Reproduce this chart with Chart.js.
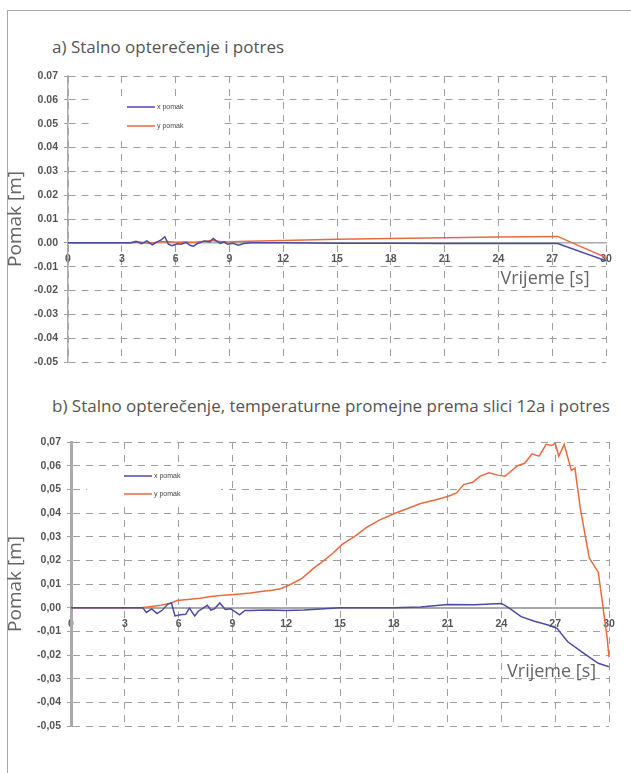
<!DOCTYPE html>
<html>
<head>
<meta charset="utf-8">
<script src="https://cdn.jsdelivr.net/npm/chart.js@4/dist/chart.umd.min.js"></script>
<style>
body { margin: 0; background: #fff; width: 631px; height: 773px; overflow: hidden; position: relative; font-family: "Open Sans", sans-serif; }
.frame { position: absolute; left: 7px; top: 10px; width: 700px; height: 800px; border-left: 1.5px solid #aaa; border-top: 1.5px solid #aaa; }
.title { position: absolute; left: 52px; font-size: 17px; color: #555; white-space: nowrap; }
.wrap { position: absolute; left: 0; width: 631px; }
</style>
</head>
<body>
<div class="frame"></div>
<div class="title" style="top:35px">a) Stalno opterečenje i potres</div>
<div class="wrap" style="top:60px;height:320px"><canvas id="chartA"></canvas></div>
<div class="title" style="top:394px">b) Stalno opterečenje, temperaturne promejne prema slici 12a i potres</div>
<div class="wrap" style="top:420px;height:330px"><canvas id="chartB"></canvas></div>

<script>
// axis ticks
const xTicks = [0, 3, 6, 9, 12, 15, 18, 21, 24, 27, 30];
const yTicks = [-0.05, -0.04, -0.03, -0.02, -0.01, 0, 0.01, 0.02, 0.03, 0.04, 0.05, 0.06, 0.07];
const yLabelsA = ['-0.05', '-0.04', '-0.03', '-0.02', '-0.01', '0.00', '0.01', '0.02', '0.03', '0.04', '0.05', '0.06', '0.07'];
const yLabelsB = ['-0,05', '-0,04', '-0,03', '-0,02', '-0,01', '0,00', '0,01', '0,02', '0,03', '0,04', '0,05', '0,06', '0,07'];
const seriesNames = ['x pomak', 'y pomak'];

// a) Stalno opterečenje i potres
const timeAx = [0, 3.5, 3.8, 4.1, 4.4, 4.7, 5.0, 5.2, 5.4, 5.6, 5.8, 6.1, 6.3, 6.6, 6.8, 7.0, 7.2, 7.4, 7.6, 7.9, 8.1, 8.3, 8.5, 8.7, 8.9, 9.2, 9.5, 9.8, 10.2, 12, 15, 18, 21, 24, 27.3, 30];
const pomakAx = [0, 0, 0.0006, -0.0004, 0.0008, -0.0008, 0.0005, 0.0012, 0.0026, -0.0006, -0.0012, -0.0004, -0.0006, 0.0002, -0.001, -0.0014, -0.0004, 0.0002, 0.0008, 0.0004, 0.0018, 0.0006, -0.0002, 0.0004, -0.0006, -0.0002, -0.001, -0.0003, 0, 0, -0.0002, -0.0002, -0.0003, -0.0003, -0.0003, -0.0075];
const timeAy = [0, 3.5, 4, 4.5, 5, 5.5, 6, 6.5, 7, 7.5, 8, 8.5, 9, 9.5, 10, 12, 15, 18, 21, 24, 27.3, 30];
const pomakAy = [0, 0, 0.0003, -0.0003, 0.0004, 0.0006, 0.0002, 0.0004, 0.0002, 0.0006, 0.001, 0.0006, 0.0004, 0.0006, 0.0007, 0.001, 0.0015, 0.0018, 0.0021, 0.0024, 0.0027, -0.0062];

// b) temperaturne promjene i potres
const timeBx = [0, 4, 4.2, 4.5, 4.8, 5.1, 5.4, 5.6, 5.8, 6.1, 6.4, 6.6, 6.9, 7.1, 7.3, 7.6, 7.8, 8.0, 8.3, 8.6, 8.9, 9.1, 9.4, 9.7, 10, 11, 12, 13, 15, 18, 19.5, 21, 22.5, 24, 24.4, 25.1, 25.8, 26.6, 27.1, 27.7, 28.6, 29.4, 30];
const pomakBx = [0, 0, -0.002, -0.0005, -0.0025, -0.001, 0.0015, 0.002, -0.0035, -0.003, -0.0028, -0.0002, -0.0035, -0.0015, -0.0005, 0.001, -0.001, -0.0005, 0.002, -0.0008, -0.0005, -0.0015, -0.003, -0.0012, -0.0012, -0.001, -0.0012, -0.001, 0, 0, 0.0003, 0.0013, 0.0012, 0.0018, 0, -0.0038, -0.0056, -0.0073, -0.0087, -0.0144, -0.0193, -0.0235, -0.025];
const timeBy = [0, 3.9, 4.5, 5, 5.3, 5.6, 5.9, 6.5, 7.2, 7.8, 8.5, 9.1, 10, 10.6, 11.2, 11.7, 12.3, 12.9, 13.5, 14.2, 14.6, 15.1, 15.8, 16.5, 17.2, 18, 18.8, 19.5, 20.3, 21, 21.5, 21.9, 22.4, 22.8, 23.3, 23.8, 24.2, 24.9, 25.3, 25.7, 26.1, 26.5, 26.8, 27.0, 27.2, 27.5, 27.9, 28.1, 28.4, 28.9, 29.4, 29.6, 29.9, 30];
const pomakBy = [0, 0, 0.0005, 0.001, 0.0015, 0.002, 0.003, 0.0035, 0.004, 0.0047, 0.0052, 0.0056, 0.0062, 0.0068, 0.0074, 0.008, 0.010, 0.0125, 0.0165, 0.0205, 0.023, 0.0266, 0.030, 0.034, 0.037, 0.0397, 0.042, 0.044, 0.0455, 0.047, 0.0485, 0.052, 0.053, 0.0555, 0.057, 0.056, 0.0555, 0.060, 0.061, 0.065, 0.064, 0.069, 0.0685, 0.0695, 0.064, 0.069, 0.058, 0.059, 0.042, 0.021, 0.015, 0.004, -0.013, -0.021];

const toPoints = (t, v) => t.map((x, i) => ({ x: x, y: v[i] }));

// legend drawn inside the plot on a white patch
const boxLegend = {
    id: 'boxLegend',
    afterDatasetsDraw(chart, args, opts) {
        const { ctx, chartArea } = chart;
        const x0 = chartArea.left + opts.x;
        const y0 = chartArea.top + opts.y;
        ctx.save();
        ctx.fillStyle = '#fff';
        ctx.fillRect(x0 - 37, y0 - 10, 134, 19 + opts.gap);
        chart.data.datasets.forEach((ds, i) => {
            const y = y0 + i * opts.gap;
            ctx.strokeStyle = ds.borderColor;
            ctx.lineWidth = 1.5;
            ctx.beginPath();
            ctx.moveTo(x0, y);
            ctx.lineTo(x0 + 28, y);
            ctx.stroke();
            ctx.fillStyle = '#444';
            ctx.font = '7px "Liberation Sans"';
            ctx.textBaseline = 'middle';
            ctx.fillText(ds.label, x0 + 30, y);
        });
        ctx.restore();
    }
};

// "Vrijeme [s]" note under the time axis
const axisNote = {
    id: 'axisNote',
    afterDraw(chart, args, opts) {
        const { ctx, scales } = chart;
        ctx.save();
        ctx.font = '18px "Open Sans"';
        ctx.fillStyle = '#666';
        ctx.textAlign = 'center';
        ctx.textBaseline = 'middle';
        ctx.fillText(opts.text, scales.x.getPixelForValue(opts.x), scales.y.getPixelForValue(opts.y));
        ctx.restore();
    }
};

function makeChart(canvasId, data, o) {
    const ctx = document.getElementById(canvasId).getContext('2d');
    return new Chart(ctx, {
        type: 'line',
        data: {
            datasets: [
                { label: seriesNames[0], data: toPoints(data[0], data[1]), borderColor: '#4b4aa6', borderWidth: 1.5 },
                { label: seriesNames[1], data: toPoints(data[2], data[3]), borderColor: '#ea6a40', borderWidth: 1.5 }
            ]
        },
        options: {
            responsive: true,
            maintainAspectRatio: false,
            animation: false,
            layout: { padding: { left: 0, right: o.padRight, top: o.padTop, bottom: o.padBottom } },
            elements: { point: { radius: 0 }, line: { tension: 0 } },
            plugins: {
                legend: { display: false },
                tooltip: { enabled: false },
                boxLegend: o.legend,
                axisNote: o.note
            },
            scales: {
                x: {
                    type: 'linear',
                    position: { y: 0 },
                    min: 0,
                    max: 30,
                    afterBuildTicks: s => { s.ticks = xTicks.map(v => ({ value: v })); },
                    ticks: {
                        callback: v => String(v),
                        font: { family: 'Liberation Sans', size: 10.5, weight: 'bold' },
                        color: '#555',
                        padding: 10,
                        maxRotation: 0
                    },
                    grid: { color: '#a0a0a0', lineWidth: 1, drawTicks: false },
                    border: { display: true, color: '#aaa', width: o.zeroWidth, dash: [7, 6] }
                },
                y: {
                    min: -0.05,
                    max: 0.07,
                    afterBuildTicks: s => { s.ticks = yTicks.map(v => ({ value: v })); },
                    afterFit: s => { s.width = o.axisWidth; },
                    ticks: {
                        callback: (v, i) => o.yLabels[i],
                        font: { family: 'Liberation Sans', size: 10.5, weight: 'bold' },
                        color: '#555',
                        padding: 6
                    },
                    title: {
                        display: true,
                        text: 'Pomak [m]',
                        font: { family: 'Open Sans', size: 19 },
                        color: '#666',
                        padding: { top: 4, bottom: 0 }
                    },
                    grid: { color: '#a0a0a0', lineWidth: 1, drawTicks: true, tickLength: 4 },
                    border: { display: true, color: '#aaa', width: o.axisLine, dash: [7, 6] }
                }
            }
        },
        plugins: [boxLegend, axisNote]
    });
}

makeChart('chartA', [timeAx, pomakAx, timeAy, pomakAy], {
    yLabels: yLabelsA, axisWidth: 68, padRight: 25, padTop: 16, padBottom: 18,
    axisLine: 1.5, zeroWidth: 1.5,
    legend: { x: 59, y: 31, gap: 19 },
    note: { text: 'Vrijeme [s]', x: 26.6, y: -0.015 }
});

makeChart('chartB', [timeBx, pomakBx, timeBy, pomakBy], {
    yLabels: yLabelsB, axisWidth: 71, padRight: 22, padTop: 22, padBottom: 24,
    axisLine: 3, zeroWidth: 2,
    legend: { x: 53, y: 34, gap: 18 },
    note: { text: 'Vrijeme [s]', x: 26.8, y: -0.027 }
});
</script>
</body>
</html>
